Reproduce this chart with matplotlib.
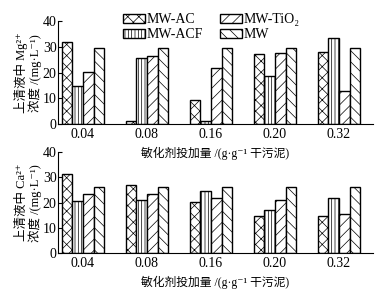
import numpy as np
import matplotlib
matplotlib.use('Agg')
import matplotlib.pyplot as plt

plt.rcParams['font.family'] = ['Liberation Serif', 'Noto Sans CJK SC', 'DejaVu Serif']
plt.rcParams['font.size'] = 10
plt.rcParams['hatch.linewidth'] = 0.5

# 数据
doses = ['0.04', '0.08', '0.16', '0.20', '0.32']
series = ['MW-AC', 'MW-ACF', 'MW-TiO₂', 'MW']
mg_ac = [32.0, 1.0, 9.3, 27.3, 28.0]
mg_acf = [14.8, 25.7, 1.0, 18.7, 33.7]
mg_tio2 = [20.4, 26.5, 21.8, 27.7, 12.9]
mg_mw = [29.7, 29.7, 29.6, 29.7, 29.7]
ca_ac = [31.2, 26.9, 20.3, 14.8, 14.8]
ca_acf = [20.6, 21.1, 24.5, 17.2, 21.8]
ca_tio2 = [23.5, 23.5, 21.9, 20.9, 15.6]
ca_mw = [26.2, 26.2, 26.2, 26.2, 26.2]

hatches = ['xxx', '|||||', '///', '\\\\\\']
ylabels = ['上清液中 Mg²⁺\n浓度 /(mg·L⁻¹)', '上清液中 Ca²⁺\n浓度 /(mg·L⁻¹)']
xlabel = '敏化剂投加量 /(g·g⁻¹ 干污泥)'

fig = plt.figure(figsize=(3.79, 2.98), dpi=100)
ax1 = fig.add_axes([0.153, 0.584, 0.831, 0.344])
ax2 = fig.add_axes([0.153, 0.151, 0.831, 0.338])

x = np.arange(len(doses))
w = 0.165
panels = [(ax1, [mg_ac, mg_acf, mg_tio2, mg_mw]),
          (ax2, [ca_ac, ca_acf, ca_tio2, ca_mw])]

for i, (ax, data) in enumerate(panels):
    ax.set_facecolor('none')
    for j, vals in enumerate(data):
        ax.bar(x + (j - 1.5) * w, vals, w, color='white', edgecolor='black',
               linewidth=1.0, hatch=hatches[j], label=series[j])
    ax.set_xlim(-0.39, 4.53)
    ax.set_ylim(0, 40)
    ax.set_yticks([0, 10, 20, 30, 40])
    ax.set_xticks(x)
    ax.set_xticklabels(doses)
    ax.tick_params(axis='x', length=0, pad=3)
    ax.tick_params(axis='y', direction='in', length=3, width=0.8, pad=1)
    ax.spines['top'].set_visible(False)
    ax.spines['right'].set_visible(False)
    ax.spines['left'].set_linewidth(0.8)
    ax.spines['bottom'].set_linewidth(0.8)
    ax.set_ylabel(ylabels[i], fontsize=9, linespacing=1.1)
    ax.yaxis.set_label_coords(-0.05, 0.5)
    ax.set_xlabel(xlabel, fontsize=8.5, labelpad=4)

ax1.legend(loc='upper left', bbox_to_anchor=(0.185, 1.15), ncol=2, frameon=False,
           borderpad=0, handlelength=1.6, handleheight=0.6, handletextpad=0.1,
           labelspacing=0.15, columnspacing=1.2)

fig.savefig('out.png', dpi=100)
